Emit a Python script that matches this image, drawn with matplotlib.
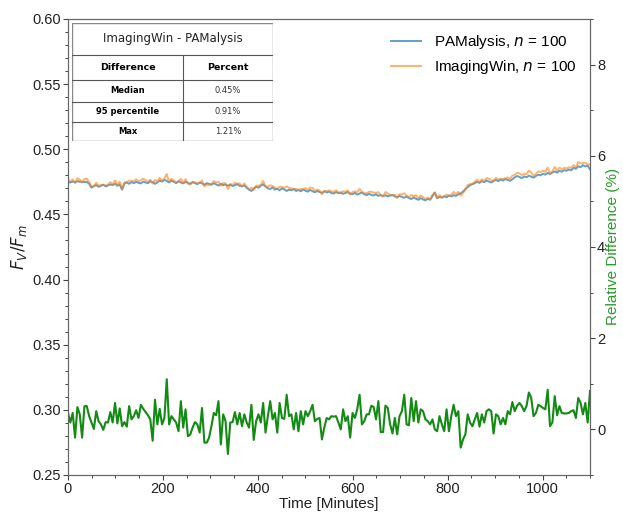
import numpy as np
import matplotlib
matplotlib.use("Agg")
import matplotlib.pyplot as plt
from matplotlib.ticker import MultipleLocator, FormatStrFormatter

plt.rcParams['font.family'] = ['Liberation Sans', 'DejaVu Sans']

# ---- data ----
pamalysis = [
    0.4750, 0.4745, 0.4752, 0.4748, 0.4755, 0.4750, 0.4752, 0.4747, 0.4750,
    0.4735, 0.4705,
    0.4718, 0.4725, 0.4712, 0.4720, 0.4728, 0.4715, 0.4722, 0.4730, 0.4725, 0.4735, 0.4720, 0.4730,
    0.4690,
    0.4738, 0.4745, 0.4735, 0.4748, 0.4740, 0.4750, 0.4742, 0.4738, 0.4752, 0.4745, 0.4740, 0.4755, 0.4748, 0.4735, 0.4745,
    0.4760, 0.4752, 0.4765, 0.4758, 0.4745, 0.4760,
    0.4750, 0.4740, 0.4755, 0.4745, 0.4738, 0.4750, 0.4742, 0.4735, 0.4748, 0.4740, 0.4732, 0.4745, 0.4738, 0.4728, 0.4740, 0.4735,
    0.4728, 0.4740, 0.4730, 0.4722, 0.4735, 0.4725, 0.4730, 0.4720, 0.4728, 0.4718, 0.4725, 0.4732, 0.4720, 0.4715, 0.4722, 0.4705,
    0.4690, 0.4680, 0.4698, 0.4712,
    0.4705, 0.4720, 0.4730, 0.4715,
    0.4700, 0.4695, 0.4708, 0.4690, 0.4698, 0.4685, 0.4700, 0.4692, 0.4680, 0.4690, 0.4685, 0.4695, 0.4680, 0.4688, 0.4678, 0.4690,
    0.4682, 0.4675, 0.4688, 0.4678, 0.4670, 0.4680, 0.4672, 0.4665, 0.4678, 0.4668, 0.4675, 0.4665, 0.4660, 0.4672, 0.4662, 0.4668, 0.4658, 0.4665,
    0.4672, 0.4660, 0.4655, 0.4665, 0.4652, 0.4660, 0.4668, 0.4655, 0.4648, 0.4658, 0.4650, 0.4645, 0.4655, 0.4642, 0.4650, 0.4640,
    0.4648, 0.4638, 0.4645, 0.4650, 0.4638, 0.4632, 0.4642, 0.4635,
    0.4628, 0.4638, 0.4625, 0.4618, 0.4630, 0.4620, 0.4612, 0.4625, 0.4615, 0.4608, 0.4620, 0.4612,
    0.4640, 0.4668, 0.4625,
    0.4635, 0.4628, 0.4640, 0.4632, 0.4645, 0.4638, 0.4648, 0.4642, 0.4655, 0.4662,
    0.4675, 0.4695, 0.4710, 0.4725, 0.4732,
    0.4740, 0.4750, 0.4742, 0.4755, 0.4748, 0.4760, 0.4752, 0.4745, 0.4758, 0.4765, 0.4755, 0.4768, 0.4760, 0.4772, 0.4765, 0.4758,
    0.4770, 0.4785, 0.4795, 0.4788, 0.4778, 0.4792, 0.4785, 0.4798, 0.4790, 0.4782, 0.4795, 0.4805,
    0.4800, 0.4812, 0.4805, 0.4818, 0.4810, 0.4822, 0.4830, 0.4820, 0.4835, 0.4828, 0.4840, 0.4835,
    0.4845, 0.4838, 0.4858, 0.4850, 0.4870, 0.4862, 0.4878, 0.4868, 0.4875, 0.4845,
]

rel_diff = [
    0.36, 0.15, 0.36, -0.18, 0.49, 0.33, -0.18, 0.51, 0.51, 0.29,
    0.15, 0.01, 0.40, 0.18, 0.11, -0.01, 0.16, 0.15, 0.38, 0.15,
    0.58, 0.13, 0.46, 0.07, 0.16, 0.06, 0.51, 0.22, 0.29, 0.42,
    0.25, 0.54, 0.45, 0.38, 0.31, 0.22, -0.25, 0.65, 0.11, 0.45,
    0.11, 0.25, 1.10, 0.11, 0.29, 0.22, 0.15, -0.04, 0.62, 0.04,
    0.44, -0.15, -0.11, 0.04, 0.16, 0.11, -0.07, 0.47, -0.29, -0.29,
    -0.18, 0.07, 0.36, 0.31, 0.62, -0.33, 0.33, 0.18, -0.54, 0.15,
    0.16, 0.38, 0.11,
    0.36, 0.07, 0.33, 0.15, 0.04, 0.54, -0.23, 0.18, 0.33, 0.15,
    0.58, -0.07, 0.29, 0.62, 0.22, 0.36, -0.07, 0.58, 0.25, 0.23,
    0.76, 0.29, 0.33, 0.00, 0.36, -0.04, 0.40, 0.11, 0.40, 0.29,
    0.40, 0.54, 0.18, 0.23, 0.25, -0.22, 0.04, 0.25, 0.22, 0.29,
    0.28, 0.29, 0.15, 0.00, 0.44, 0.18, 0.29, -0.18, 0.36, 0.25,
    0.44, 0.76, 0.11, 0.18, 0.33, 0.33, 0.52, 0.49, 0.22, 0.62,
    -0.06, -0.06, 0.52, 0.47, 0.11, -0.09, 0.25, -0.11, 0.29, 0.40,
    0.76, 0.11, 0.09, 0.69, 0.18,
    0.62, 0.15, 0.44, 0.40, 0.22, 0.18, 0.11, 0.22, 0.00, -0.04,
    0.29, 0.11, -0.04, 0.44, -0.04, 0.29, 0.54, 0.29, 0.40, -0.40,
    -0.22, -0.11, 0.33, 0.15, 0.07, 0.22, 0.36, 0.06, 0.33, 0.15,
    0.40, 0.44, 0.40, -0.09, 0.33, 0.29, 0.11, 0.25, 0.11, 0.40,
    0.33, 0.60, 0.40, 0.52, 0.58, 0.51, 0.40, 0.51, 0.81, 0.69,
    0.29, 0.36, 0.54, 0.51, 0.47, 0.44, 0.87, 0.07, 0.15, 0.73,
    0.31, 0.51, 0.36, 0.35, 0.35, 0.36, 0.40, 0.42, 0.25, 0.69,
    0.58, 0.33, 0.58, 0.15, 0.84,
]

t_start, t_end = 0, 1100
time = np.linspace(t_start, t_end, len(pamalysis))
# ImagingWin derived from PAMalysis and the plotted relative difference
imagingwin = np.array(pamalysis) * (1 + np.array(rel_diff) / 100.0)

table_title = "ImagingWin - PAMalysis"
table_header = ["Difference", "Percent"]
table_rows = ["Median", "95 percentile", "Max"]
table_values = ["0.45%", "0.91%", "1.21%"]

legend_labels = ["PAMalysis, $n$ = 100", "ImagingWin, $n$ = 100"]

# ---- figure ----
fig = plt.figure(figsize=(6.23, 5.12), dpi=100)
ax = fig.add_axes([68/623, 1 - 475/512, 522/623, 456/512])
ax2 = ax.twinx()

l1, = ax.plot(time, pamalysis, color='tab:blue', alpha=0.7, lw=1.4, label=legend_labels[0])
l2, = ax.plot(time, imagingwin, color='tab:orange', alpha=0.6, lw=1.4, label=legend_labels[1])
ax2.plot(time, rel_diff, color='#138a13', lw=1.5)

ax.set_xlim(0, 1100)
ax.set_ylim(0.25, 0.60)
ax2.set_ylim(-1, 9)

ax.xaxis.set_major_locator(MultipleLocator(200))
ax.xaxis.set_minor_locator(MultipleLocator(50))
ax.yaxis.set_major_locator(MultipleLocator(0.05))
ax.yaxis.set_minor_locator(MultipleLocator(0.01))
ax2.yaxis.set_major_locator(MultipleLocator(2))
ax2.yaxis.set_minor_locator(MultipleLocator(1))
ax.yaxis.set_major_formatter(FormatStrFormatter('%.2f'))

for a in (ax, ax2):
    a.tick_params(which='major', length=3.5, width=0.8, labelsize=10.5, color='#444444',
                  labelcolor='#222222', pad=1.5)
    a.tick_params(which='minor', length=2.2, width=0.7, color='#444444')
    for s in a.spines.values():
        s.set_color('#666666')

ax.set_xlabel("Time [Minutes]", fontsize=11, color='#222222')
ax.xaxis.set_label_coords(0.5, -0.049)
ax.set_ylabel("$F_V/F_m$", fontsize=12, color='#222222')
ax.yaxis.set_label_coords(-0.074, 0.5)
ax2.set_ylabel("Relative Difference (%)", fontsize=11, color='#2a9a2a')
ax2.yaxis.set_label_coords(1.031, 0.502)

ax.legend(handles=[l1, l2], loc='upper left', frameon=False, fontsize=11,
          bbox_to_anchor=(0.619, 0.969), borderaxespad=0, borderpad=0,
          handlelength=1.95, handletextpad=0.85, labelspacing=0.45)

# ---- table ----
tax = fig.add_axes([72/623, 1 - 141/512, 201/623, 118/512], zorder=10)
tax.set_xlim(0, 1)
tax.set_ylim(0, 1)
tax.axis('off')
tax.add_patch(plt.Rectangle((0, 0), 1, 1, facecolor='white', edgecolor='#888888', lw=1.0))
bounds = [0.729, 0.517, 0.3305, 0.161]
for yb in bounds:
    tax.plot([0, 1], [yb, yb], color='#555555', lw=0.8)
tax.plot([0.552, 0.552], [0, 0.729], color='#555555', lw=0.8)
tfont = ['DejaVu Sans']
tax.text(0.5, 0.8645, table_title, ha='center', va='center', fontsize=8.5, family=tfont, color='#222222')
tax.text(0.276, 0.623, table_header[0], ha='center', va='center', fontsize=6.8, weight='bold', family=tfont)
tax.text(0.776, 0.623, table_header[1], ha='center', va='center', fontsize=6.8, weight='bold', family=tfont)
row_centers = [0.424, 0.246, 0.0805]
for yc, name, val in zip(row_centers, table_rows, table_values):
    tax.text(0.276, yc, name, ha='center', va='center', fontsize=6, weight='bold', family=tfont)
    tax.text(0.776, yc, val, ha='center', va='center', fontsize=6, family=tfont, color='#333333')

fig.savefig("out.png", dpi=100)
